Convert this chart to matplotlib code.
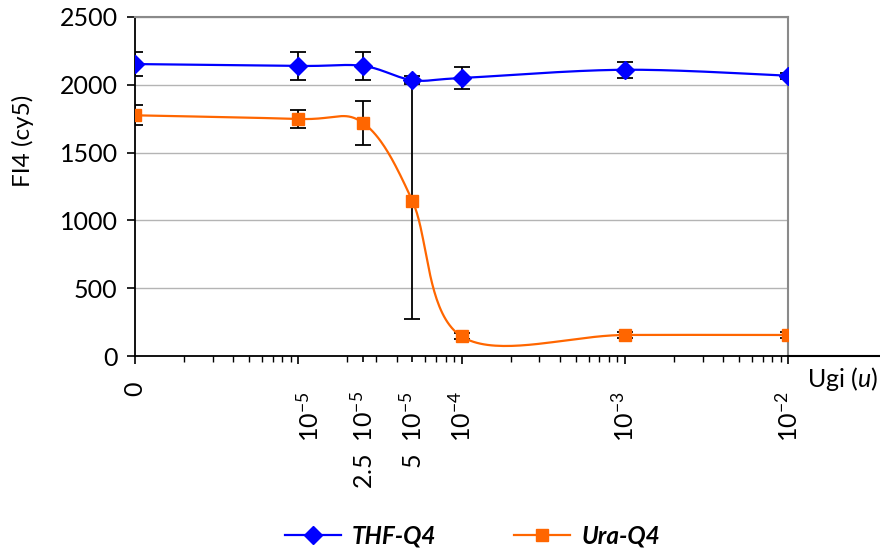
import numpy as np
import matplotlib
matplotlib.use("Agg")
import matplotlib.pyplot as plt
from matplotlib.transforms import ScaledTranslation
from matplotlib.font_manager import FontProperties
from matplotlib.ticker import LogLocator, NullFormatter

plt.rcParams['font.family'] = ['Lato', 'DejaVu Sans']
plt.rcParams['mathtext.fontset'] = 'custom'
plt.rcParams['mathtext.rm'] = 'Lato'
plt.rcParams['mathtext.it'] = 'Lato:italic'
plt.rcParams['mathtext.bf'] = 'Lato:bold'

# ---- data ----
conc = [0, 1e-5, 2.5e-5, 5e-5, 1e-4, 1e-3, 1e-2]
tick_labels = ['0', '10$^{-5}$', '2.5  10$^{-5}$', '5  10$^{-5}$',
               '10$^{-4}$', '10$^{-3}$', '10$^{-2}$']
thf = [2153, 2139, 2139, 2035, 2050, 2111, 2067]
thf_err = [89, 102, 102, 30, 82, 60, 22]
ura = [1775, 1748, 1718, 1145, 145, 155, 155]
ura_err = [75, 66, 162, 875, 22, 20, 20]
series_names = ['THF-Q4', 'Ura-Q4']
x_floor = 1e-6  # where "0" sits on the log axis

BLUE = '#0000FF'
ORANGE = '#FF6600'

xpos = np.array([x_floor if c == 0 else c for c in conc])


def smooth(xs, ys, n=40):
    """Excel-style smoothed line (Catmull-Rom Bezier) in log-x space."""
    P = np.column_stack([np.log10(xs), np.asarray(ys, float)])
    m = len(P)
    out = []
    t = np.linspace(0, 1, n)[:, None]
    for i in range(m - 1):
        p0, p3 = P[i], P[i + 1]
        pm, pp = P[max(i - 1, 0)], P[min(i + 2, m - 1)]
        c1 = p0 + (p3 - pm) / 6.0
        c2 = p3 - (pp - p0) / 6.0
        seg = ((1 - t) ** 3) * p0 + 3 * ((1 - t) ** 2) * t * c1 \
            + 3 * (1 - t) * t ** 2 * c2 + t ** 3 * p3
        out.append(seg if i == 0 else seg[1:])
    s = np.vstack(out)
    return 10 ** s[:, 0], s[:, 1]


fig = plt.figure(figsize=(8.8, 5.5), dpi=100)
ax = fig.add_axes([135 / 880, 1 - 356 / 550, (788 - 135) / 880, (356 - 17) / 550])

ax.set_xscale('log')
ax.set_xlim(x_floor, 1e-2)
ax.set_ylim(0, 2500)
ax.set_yticks(np.arange(0, 2501, 500))

ax.yaxis.grid(True, color='#b4b4b4', lw=1.0)
ax.set_axisbelow(True)

# error bars (under lines/markers)
ax.errorbar(xpos, thf, yerr=thf_err, fmt='none', ecolor='black',
            elinewidth=1.3, capsize=5.5, capthick=1.3, zorder=3)
ax.errorbar(xpos, ura, yerr=ura_err, fmt='none', ecolor='black',
            elinewidth=1.3, capsize=5.5, capthick=1.3, zorder=3)

sx, sy = smooth(xpos, thf)
ax.plot(sx, sy, color=BLUE, lw=1.6, zorder=4)
sx, sy = smooth(xpos, ura)
ax.plot(sx, sy, color=ORANGE, lw=1.6, zorder=4)
ax.plot(xpos, thf, ls='none', marker='D', ms=9.5, color=BLUE, zorder=5)
ax.plot(xpos, ura, ls='none', marker='s', ms=8.5, color=ORANGE, zorder=5)

# legend proxies
h1, = ax.plot([], [], color=BLUE, lw=1.6, marker='D', ms=9.5)
h2, = ax.plot([], [], color=ORANGE, lw=1.6, marker='s', ms=8.5)

# spines
for s in ['top', 'right']:
    ax.spines[s].set_color('#8a8a8a')
    ax.spines[s].set_linewidth(1.5)
for s in ['left', 'bottom']:
    ax.spines[s].set_color('black')
    ax.spines[s].set_linewidth(1.3)

# extend x-axis line to right edge
ax.plot([1, (880 - 135) / (788 - 135)], [0, 0], transform=ax.transAxes,
        color='black', lw=1.5, clip_on=False, zorder=6)

# ticks
ax.xaxis.set_minor_locator(LogLocator(base=10, subs=np.arange(2, 10)))
ax.xaxis.set_minor_formatter(NullFormatter())
ax.set_xticks(xpos)
ax.set_xticklabels(tick_labels, rotation=90)
ax.tick_params(axis='x', which='major', length=6, width=1.2, pad=19.5,
               labelsize=18, direction='out')
ax.tick_params(axis='x', which='minor', length=4, width=1.0, direction='out')
ax.tick_params(axis='y', which='major', length=6, width=1.2, pad=6.5,
               labelsize=18, direction='out')

mt = ax.xaxis.get_major_ticks()
for k in (2, 3):
    mt[k].tick1line.set_markersize(4)
# label nudges
mt[0].label1.set_transform(mt[0].label1.get_transform()
                           + ScaledTranslation(0, 0.10, fig.dpi_scale_trans))
mt[1].label1.set_transform(mt[1].label1.get_transform()
                           + ScaledTranslation(0.11, 0, fig.dpi_scale_trans))

# axis titles
fig.text(23 / 880, 1 - 141 / 550, 'FI4 (cy5)', rotation=90, ha='center',
         va='center', fontsize=17.5)
fig.text(878 / 880, 1 - 387 / 550, 'Ugi ($\\mathit{u}$)', ha='right',
         va='baseline', fontsize=18)

fig.legend([h1, h2], series_names, loc='center',
           bbox_to_anchor=(0.537, 1 - 536 / 550), ncol=2, frameon=False,
           handlelength=2.3, handletextpad=0.45, columnspacing=3.2,
           prop=FontProperties(family='Lato', weight='bold', style='italic',
                               size=17.5))

fig.savefig('out.png', dpi=100)
